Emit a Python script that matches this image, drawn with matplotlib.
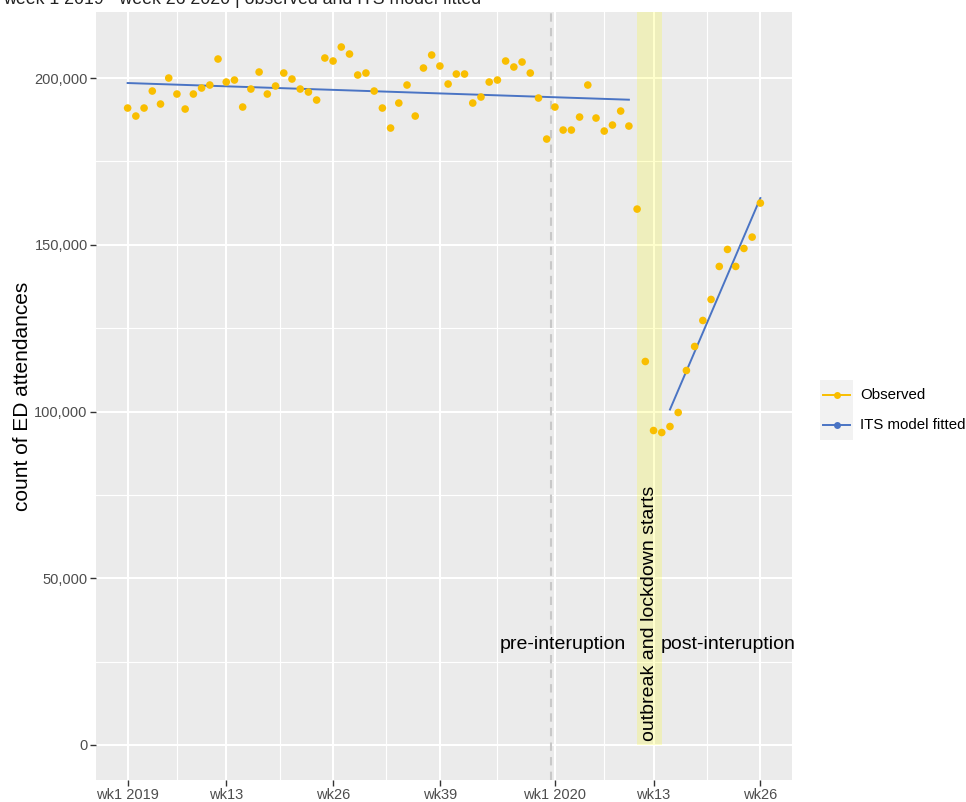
import matplotlib
matplotlib.use("Agg")
import matplotlib.pyplot as plt
from matplotlib.patches import Rectangle
from matplotlib.lines import Line2D
from matplotlib.ticker import FuncFormatter

plt.rcParams['font.family'] = ['Liberation Sans', 'DejaVu Sans']

# ---------------- data ----------------
weeks = list(range(1, 79))
observed = [191000, 188600, 191000, 196100, 192200, 200000, 195200, 190700, 195200, 197000,
            197900, 205700, 198800, 199400, 191300, 196700, 201800, 195200, 197600, 201500,
            199700, 196700, 195800, 193400, 206000, 205100, 209300, 207200, 200900, 201500,
            196100, 191000, 185000, 192500, 197900, 188600, 203000, 206900, 203600, 198200,
            201200, 201200, 192500, 194300, 198800, 199400, 205100, 203300, 204800, 201500,
            194000, 181700, 191300, 184400, 184400, 188300, 197900, 188000, 184100, 185900,
            190100, 185600, 160700, 115000, 94300, 93700, 95500, 99700, 112300, 119500,
            127300, 133600, 143500, 148600, 143500, 148900, 152300, 162500]
pre_fit_weeks = [1, 62]
pre_fit = [198500, 193500]
post_fit_weeks = [67, 78]
post_fit = [100600, 164000]
tick_weeks = [1, 13, 26, 39, 53, 65, 78]
tick_labels = ["wk1 2019", "wk13", "wk26", "wk39", "wk1 2020", "wk13", "wk26"]
minor_weeks = [7, 19.5, 32.5, 46, 59, 71.5]
interruption_week = 52.5
lockdown_start, lockdown_end = 63, 66

ORANGE = '#F9BE00'
BLUE = '#4A74C4'

W, H = 966, 802
fig = plt.figure(figsize=(W / 100, H / 100), dpi=100)
ax = fig.add_axes([96 / W, (H - 780) / H, (792 - 96) / W, (780 - 12) / H])
ax.set_facecolor('#EBEBEB')
for s in ax.spines.values():
    s.set_visible(False)

ax.set_xlim(-2.85, 81.85)
ax.set_ylim(-10500, 219800)

# grid
for x in minor_weeks:
    ax.axvline(x, color='white', lw=0.8, zorder=0.5)
for y in [25000, 75000, 125000, 175000]:
    ax.axhline(y, color='white', lw=0.8, zorder=0.5)
for x in tick_weeks:
    ax.axvline(x, color='white', lw=1.5, zorder=0.6)
for y in [0, 50000, 100000, 150000, 200000]:
    ax.axhline(y, color='white', lw=1.5, zorder=0.6)

# lockdown band
ax.add_patch(Rectangle((lockdown_start, 0), lockdown_end - lockdown_start, 1e6,
                       facecolor='yellow', alpha=0.2, edgecolor='none', zorder=1))
# interruption line
ax.axvline(interruption_week, color='#C8C8C8', lw=1.5, ls=(0, (4, 3)), zorder=1.2)

# data
ax.scatter(weeks, observed, s=30, color=ORANGE, edgecolors='none', zorder=3)
ax.plot(pre_fit_weeks, pre_fit, color=BLUE, lw=1.4, zorder=2.5)
ax.plot(post_fit_weeks, post_fit, color=BLUE, lw=1.4, zorder=2.5)

# annotations
ax.text(61.6, 30000, "pre-interuption", ha='right', va='center', fontsize=14, color='black', zorder=4)
ax.text(65.9, 30000, "post-interuption", ha='left', va='center', fontsize=14, color='black', zorder=4)
ax.text(64.5, 1200, "outbreak and lockdown starts", rotation=90, ha='center', va='bottom',
        fontsize=14, color='black', zorder=4)

# axes ticks
ax.set_xticks(tick_weeks)
ax.set_xticklabels(tick_labels)
ax.set_yticks([0, 50000, 100000, 150000, 200000])
ax.yaxis.set_major_formatter(FuncFormatter(lambda v, p: f"{int(v):,}"))
ax.tick_params(axis='both', which='major', length=4, width=1, color='#333333',
               labelcolor='#4D4D4D', labelsize=10.5, pad=2)
ax.set_ylabel("count of ED attendances", fontsize=15, color='black', labelpad=2)

# title (partially cut off at top, as in the reference)
fig.text(3 / W, 1 - 4 / H, "week 1 2019 - week 26 2020 | observed and ITS model fitted",
         ha='left', va='baseline', fontsize=12.8, color='#222222')

# legend (manual)
lg = fig.add_axes([0, 0, 1, 1], facecolor='none')
lg.set_xlim(0, W)
lg.set_ylim(H, 0)
lg.axis('off')
lg.add_patch(Rectangle((820, 380), 33, 60, facecolor='#F2F2F2', edgecolor='none'))
for yy, col, lab in [(395, ORANGE, "Observed"), (425, BLUE, "ITS model fitted")]:
    lg.add_line(Line2D([823, 850], [yy, yy], color=col, lw=1.4))
    lg.add_line(Line2D([836.5], [yy], color=col, marker='o', markersize=5, markeredgewidth=0))
    lg.text(860, yy, lab, ha='left', va='center', fontsize=10.8, color='black')

fig.savefig("out.png", dpi=100)
